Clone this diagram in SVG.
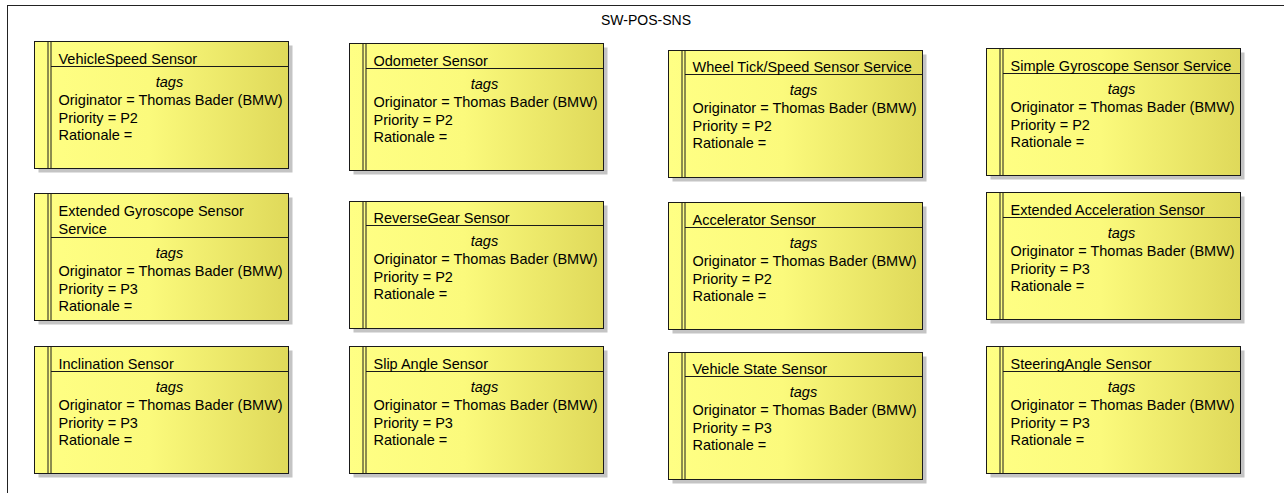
<svg xmlns="http://www.w3.org/2000/svg" width="1284" height="493" viewBox="0 0 1284 493">
  <style>
    text { font-family: "Liberation Sans", Arial, sans-serif; font-size: 14.5px; fill: #000; }
    .frame { fill: #fff; stroke: #222; stroke-width: 1; }
    .ftitle { font-size: 14px; text-anchor: middle; }
    .shadow { fill: #c4c4c4; }
    .body { fill: url(#req); stroke: #1a1a1a; stroke-width: 1; }
    .rule { stroke: #1a1a1a; stroke-width: 1; fill: none; }
    .tags { font-style: italic; text-anchor: middle; }
  </style>
  <defs>
    <linearGradient id="req" x1="0" y1="0" x2="1" y2="0">
      <stop offset="0" stop-color="#ffff84"/>
      <stop offset="0.45" stop-color="#fbfa7c"/>
      <stop offset="1" stop-color="#dfd95a"/>
    </linearGradient>
    <!-- requirement element: shadow, body, double margin line -->
    <g id="box">
      <rect class="shadow" x="4" y="4" width="254" height="127"/>
      <rect class="body" x="0" y="0" width="254" height="127"/>
      <line class="rule" x1="13.5" y1="0" x2="13.5" y2="127"/>
      <line class="rule" x1="16.5" y1="0" x2="16.5" y2="127"/>
    </g>
  </defs>

  <!-- package frame -->
  <rect class="frame" x="7.5" y="5.5" width="1280" height="500"/>
  <text class="ftitle" x="646" y="25">SW-POS-SNS</text>

  <g id="connectors"/>

  <g id="vehiclespeed-sensor" transform="translate(34.5,41.5)">
    <use href="#box"/>
    <line class="rule" x1="16.5" y1="25" x2="254" y2="25"/>
    <text x="24" y="22">VehicleSpeed Sensor</text>
    <text class="tags" x="135" y="45">tags</text>
    <text x="24" y="63">Originator = Thomas Bader (BMW)</text>
    <text x="24" y="81">Priority = P2</text>
    <text x="24" y="98.5">Rationale =</text>
  </g>

  <g id="odometer-sensor" transform="translate(349.5,43.5)">
    <use href="#box"/>
    <line class="rule" x1="16.5" y1="25" x2="254" y2="25"/>
    <text x="24" y="22">Odometer Sensor</text>
    <text class="tags" x="135" y="45">tags</text>
    <text x="24" y="63">Originator = Thomas Bader (BMW)</text>
    <text x="24" y="81">Priority = P2</text>
    <text x="24" y="98.5">Rationale =</text>
  </g>

  <g id="wheeltick-sensor" transform="translate(668.5,50.5)">
    <use href="#box"/>
    <line class="rule" x1="16.5" y1="24" x2="254" y2="24"/>
    <text x="24" y="21">Wheel Tick/Speed Sensor Service</text>
    <text class="tags" x="135" y="44">tags</text>
    <text x="24" y="62">Originator = Thomas Bader (BMW)</text>
    <text x="24" y="80">Priority = P2</text>
    <text x="24" y="97.5">Rationale =</text>
  </g>

  <g id="simple-gyro-sensor" transform="translate(986.5,48.5)">
    <use href="#box"/>
    <line class="rule" x1="16.5" y1="25" x2="254" y2="25"/>
    <text x="24" y="22">Simple Gyroscope Sensor Service</text>
    <text class="tags" x="135" y="45">tags</text>
    <text x="24" y="63">Originator = Thomas Bader (BMW)</text>
    <text x="24" y="81">Priority = P2</text>
    <text x="24" y="98.5">Rationale =</text>
  </g>

  <g id="extended-gyro-sensor" transform="translate(34.5,193.5)">
    <use href="#box"/>
    <line class="rule" x1="16.5" y1="44" x2="254" y2="44"/>
    <text x="24" y="22">Extended Gyroscope Sensor</text>
    <text x="24" y="40">Service</text>
    <text class="tags" x="135" y="64">tags</text>
    <text x="24" y="82">Originator = Thomas Bader (BMW)</text>
    <text x="24" y="100">Priority = P3</text>
    <text x="24" y="117.5">Rationale =</text>
  </g>

  <g id="reversegear-sensor" transform="translate(349.5,201.5)">
    <use href="#box"/>
    <line class="rule" x1="16.5" y1="24" x2="254" y2="24"/>
    <text x="24" y="21">ReverseGear Sensor</text>
    <text class="tags" x="135" y="44">tags</text>
    <text x="24" y="62">Originator = Thomas Bader (BMW)</text>
    <text x="24" y="80">Priority = P2</text>
    <text x="24" y="97.5">Rationale =</text>
  </g>

  <g id="accelerator-sensor" transform="translate(668.5,202.5)">
    <use href="#box"/>
    <line class="rule" x1="16.5" y1="25" x2="254" y2="25"/>
    <text x="24" y="22">Accelerator Sensor</text>
    <text class="tags" x="135" y="45">tags</text>
    <text x="24" y="63">Originator = Thomas Bader (BMW)</text>
    <text x="24" y="81">Priority = P2</text>
    <text x="24" y="98.5">Rationale =</text>
  </g>

  <g id="extended-accel-sensor" transform="translate(986.5,192.5)">
    <use href="#box"/>
    <line class="rule" x1="16.5" y1="25" x2="254" y2="25"/>
    <text x="24" y="22">Extended Acceleration Sensor</text>
    <text class="tags" x="135" y="45">tags</text>
    <text x="24" y="63">Originator = Thomas Bader (BMW)</text>
    <text x="24" y="81">Priority = P3</text>
    <text x="24" y="98.5">Rationale =</text>
  </g>

  <g id="inclination-sensor" transform="translate(34.5,346.5)">
    <use href="#box"/>
    <line class="rule" x1="16.5" y1="25" x2="254" y2="25"/>
    <text x="24" y="22">Inclination Sensor</text>
    <text class="tags" x="135" y="45">tags</text>
    <text x="24" y="63">Originator = Thomas Bader (BMW)</text>
    <text x="24" y="81">Priority = P3</text>
    <text x="24" y="98.5">Rationale =</text>
  </g>

  <g id="slipangle-sensor" transform="translate(349.5,346.5)">
    <use href="#box"/>
    <line class="rule" x1="16.5" y1="25" x2="254" y2="25"/>
    <text x="24" y="22">Slip Angle Sensor</text>
    <text class="tags" x="135" y="45">tags</text>
    <text x="24" y="63">Originator = Thomas Bader (BMW)</text>
    <text x="24" y="81">Priority = P3</text>
    <text x="24" y="98.5">Rationale =</text>
  </g>

  <g id="vehiclestate-sensor" transform="translate(668.5,352.5)">
    <use href="#box"/>
    <line class="rule" x1="16.5" y1="24" x2="254" y2="24"/>
    <text x="24" y="21">Vehicle State Sensor</text>
    <text class="tags" x="135" y="44">tags</text>
    <text x="24" y="62">Originator = Thomas Bader (BMW)</text>
    <text x="24" y="80">Priority = P3</text>
    <text x="24" y="97.5">Rationale =</text>
  </g>

  <g id="steeringangle-sensor" transform="translate(986.5,346.5)">
    <use href="#box"/>
    <line class="rule" x1="16.5" y1="25" x2="254" y2="25"/>
    <text x="24" y="22">SteeringAngle Sensor</text>
    <text class="tags" x="135" y="45">tags</text>
    <text x="24" y="63">Originator = Thomas Bader (BMW)</text>
    <text x="24" y="81">Priority = P3</text>
    <text x="24" y="98.5">Rationale =</text>
  </g>
</svg>
